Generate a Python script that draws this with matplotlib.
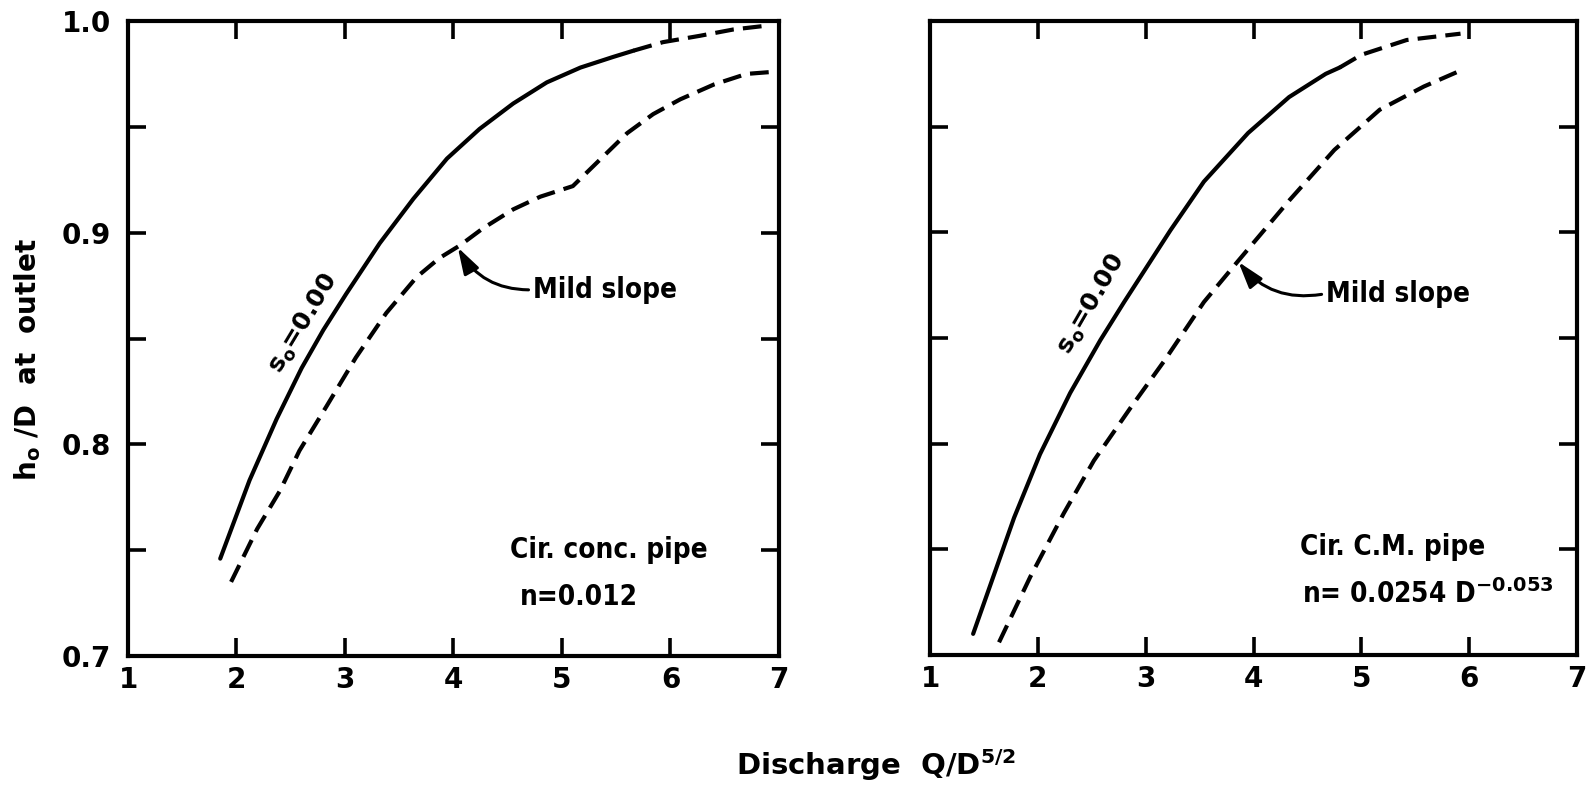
import matplotlib
matplotlib.use("Agg")
import matplotlib.pyplot as plt
from matplotlib import font_manager

plt.rcParams['font.family'] = ['DejaVu Sans']
plt.rcParams['font.weight'] = 'bold'
plt.rcParams['mathtext.fontset'] = 'dejavusans'
plt.rcParams['mathtext.default'] = 'bf'

_names = {f.name for f in font_manager.fontManager.ttflist}
if 'Liberation Sans Narrow' in _names:
    NARROW = dict(family=['Liberation Sans Narrow', 'DejaVu Sans'])
else:
    NARROW = dict(family=['DejaVu Sans'], stretch='condensed')

# ---- data ----
x_ticks = [1, 2, 3, 4, 5, 6, 7]
x_tick_labels = ['1', '2', '3', '4', '5', '6', '7']
y_ticks = [0.70, 0.75, 0.80, 0.85, 0.90, 0.95, 1.00]
y_tick_labels = ['0.7', '', '0.8', '', '0.9', '', '1.0']

# Left panel: circular concrete pipe, n = 0.012
left_s0_x = [1.85, 2.12, 2.37, 2.60, 2.80, 3.01, 3.32, 3.63, 3.94, 4.24, 4.55, 4.86,
             5.17, 5.47, 5.66]
left_s0_y = [0.746, 0.783, 0.812, 0.836, 0.854, 0.871, 0.895, 0.916, 0.935, 0.949, 0.961, 0.971,
             0.978, 0.983, 0.986]
left_s0_ext_x = [5.66, 5.93, 6.27, 6.58, 6.92]
left_s0_ext_y = [0.986, 0.990, 0.993, 0.996, 0.998]
left_mild_x = [1.95, 2.19, 2.40, 2.58, 2.83, 3.10, 3.38, 3.66, 3.87, 4.06, 4.27, 4.55, 4.80,
               5.10, 5.32, 5.60, 5.84, 6.09, 6.40, 6.70, 6.95]
left_mild_y = [0.735, 0.760, 0.778, 0.797, 0.818, 0.841, 0.862, 0.879, 0.888, 0.894, 0.902, 0.911,
               0.917, 0.922, 0.933, 0.947, 0.956, 0.963, 0.970, 0.975, 0.976]

# Right panel: circular C.M. pipe
right_s0_x = [1.40, 1.78, 2.02, 2.30, 2.58, 2.80, 3.23, 3.54, 3.95, 4.33, 4.67, 4.80]
right_s0_y = [0.710, 0.765, 0.795, 0.824, 0.849, 0.867, 0.901, 0.924, 0.947, 0.964, 0.975, 0.978]
right_s0_ext_x = [4.80, 5.00, 5.42, 5.92]
right_s0_ext_y = [0.978, 0.984, 0.991, 0.994]
right_mild_x = [1.64, 1.93, 2.24, 2.52, 2.86, 3.17, 3.54, 3.85, 4.33, 4.75, 5.17, 5.58, 5.94]
right_mild_y = [0.706, 0.737, 0.767, 0.792, 0.817, 0.839, 0.867, 0.886, 0.915, 0.939, 0.958, 0.969, 0.977]

W, H = 1587, 791
fig = plt.figure(figsize=(W / 100, H / 100), dpi=100)
ax1 = fig.add_axes([128 / W, 1 - 656 / H, 651 / W, 635 / H])
ax2 = fig.add_axes([930 / W, 1 - 655 / H, 647 / W, 634 / H])

LW = 3.0
DASH = (0, (4.5, 2.2))


def style(ax, ylabels):
    ax.set_xlim(1, 7)
    ax.set_ylim(0.7, 1.0)
    for sp in ax.spines.values():
        sp.set_linewidth(LW)
    ax.set_xticks(x_ticks)
    ax.set_xticklabels(x_tick_labels)
    ax.set_yticks(y_ticks)
    if ylabels:
        ax.set_yticklabels(y_tick_labels)
    else:
        ax.set_yticklabels([''] * len(y_ticks))
    ax.tick_params(axis='both', which='major', direction='in', length=13, width=2.6,
                   top=True, right=True, labelsize=20)
    ax.tick_params(axis='x', pad=7)
    ax.tick_params(axis='y', pad=12)
    for lab in ax.get_xticklabels() + ax.get_yticklabels():
        lab.set_fontweight('bold')


style(ax1, True)
style(ax2, False)

# left curves
ax1.plot(left_s0_x, left_s0_y, color='k', lw=LW, solid_capstyle='round')
ax1.plot(left_s0_ext_x, left_s0_ext_y, color='k', lw=LW, linestyle=DASH)
ax1.plot(left_mild_x, left_mild_y, color='k', lw=LW, linestyle=DASH)

# right curves
ax2.plot(right_s0_x, right_s0_y, color='k', lw=LW, solid_capstyle='round')
ax2.plot(right_s0_ext_x, right_s0_ext_y, color='k', lw=LW, linestyle=DASH)
ax2.plot(right_mild_x, right_mild_y, color='k', lw=LW, linestyle=DASH)

# labels on curves
ax1.text(2.62, 0.857, 's$_o$=0.00', rotation=59, fontsize=18, fontweight='bold',
         ha='center', va='center')
ax2.text(2.50, 0.866, 's$_o$=0.00', rotation=60, fontsize=18, fontweight='bold',
         ha='center', va='center')

arrow_kw = dict(arrowstyle='-|>,head_length=0.8,head_width=0.25', lw=2.2, color='k',
                connectionstyle='arc3,rad=-0.3', shrinkA=1, shrinkB=0, relpos=(0, 0.5))
ax1.annotate('Mild slope', xy=(4.04, 0.893), xytext=(4.73, 0.873), fontsize=20,
             fontweight='bold', va='center', ha='left', arrowprops=arrow_kw, **NARROW)
ax2.annotate('Mild slope', xy=(3.86, 0.886), xytext=(4.67, 0.871), fontsize=20,
             fontweight='bold', va='center', ha='left', arrowprops=arrow_kw, **NARROW)

ax1.text(4.52, 0.750, 'Cir. conc. pipe', fontsize=20, fontweight='bold', ha='left',
         va='center', **NARROW)
ax1.text(4.61, 0.728, 'n=0.012', fontsize=20, fontweight='bold', ha='left',
         va='center', **NARROW)
ax2.text(4.43, 0.751, 'Cir. C.M. pipe', fontsize=20, fontweight='bold', ha='left',
         va='center', **NARROW)
ax2.text(4.45, 0.729, 'n= 0.0254 D$^{-0.053}$', fontsize=20, fontweight='bold',
         ha='left', va='center', **NARROW)

fig.text(28 / W, 1 - 360 / H, 'h$_o$ /D  at  outlet', rotation=90, fontsize=20,
         fontweight='bold', ha='center', va='center')
fig.text(876 / W, 1 - 765 / H, 'Discharge  Q/D$^{5/2}$', fontsize=21,
         fontweight='bold', ha='center', va='center')

fig.savefig('out.png', dpi=100, facecolor='white')
